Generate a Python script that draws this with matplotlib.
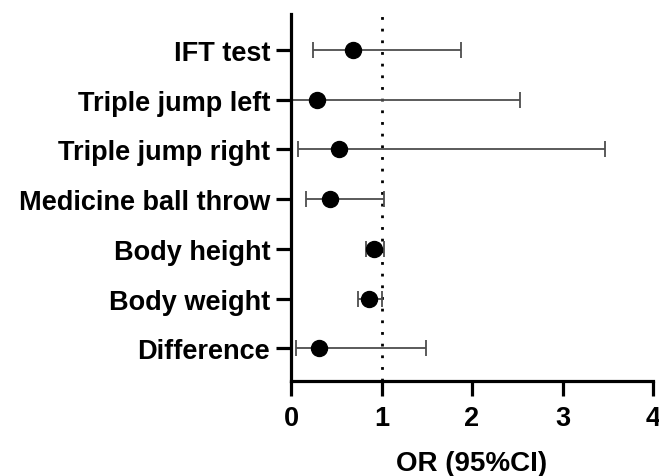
import matplotlib
matplotlib.use('Agg')
import matplotlib.pyplot as plt
import numpy as np

# Data (odds ratios with 95% CI)
labels = ['IFT test', 'Triple jump left', 'Triple jump right', 'Medicine ball throw',
          'Body height', 'Body weight', 'Difference']
odds_ratio = [0.69, 0.29, 0.53, 0.43, 0.92, 0.86, 0.31]
ci_low = [0.24, 0.01, 0.08, 0.17, 0.83, 0.74, 0.05]
ci_high = [1.88, 2.53, 3.47, 1.03, 1.03, 1.01, 1.49]

plt.rcParams['font.family'] = ['Liberation Sans', 'DejaVu Sans']
plt.rcParams['font.weight'] = 'bold'

fig = plt.figure(figsize=(6.59, 4.77), dpi=100)
ax = fig.add_axes([0.4416, 0.199, 0.5494, 0.7696])

y = np.arange(len(labels))[::-1]
or_arr = np.array(odds_ratio)
err = [or_arr - np.array(ci_low), np.array(ci_high) - or_arr]

ax.axvline(1, color='black', linestyle=(0, (1, 3.2)), linewidth=2.0, zorder=1)
ax.errorbar(or_arr, y, xerr=err, fmt='none', ecolor='#4d4d4d', elinewidth=1.3,
            capsize=5.5, capthick=1.3, zorder=2)
ax.plot(or_arr, y, 'o', color='black', markersize=11.5, zorder=3, clip_on=False)

ax.set_xlim(0, 4)
ax.set_ylim(-0.66, 6.72)
ax.set_xticks([0, 1, 2, 3, 4])
ax.set_yticks(y)
ax.set_yticklabels(labels)

ax.spines['top'].set_visible(False)
ax.spines['right'].set_visible(False)
ax.spines['left'].set_linewidth(2.3)
ax.spines['bottom'].set_linewidth(2.3)
ax.tick_params(axis='y', length=11, width=2.3, labelsize=19.5, pad=4)
ax.tick_params(axis='x', length=11, width=2.3, labelsize=19.5, pad=6)
for t in ax.get_xticklabels() + ax.get_yticklabels():
    t.set_fontweight('bold')

ax.set_xlabel('OR (95%CI)', fontsize=20, fontweight='bold', labelpad=14)

fig.savefig('out.png', dpi=100, facecolor='white')
